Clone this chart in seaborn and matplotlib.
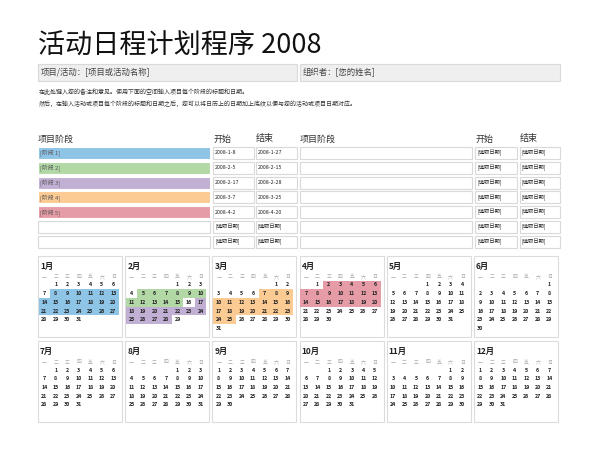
import calendar, datetime
import matplotlib
matplotlib.use("Agg")
import matplotlib.pyplot as plt
from matplotlib.patches import Rectangle
import seaborn as sns

sns.set_style("white")
plt.rcParams['font.family'] = ['Noto Sans CJK SC', 'DejaVu Sans']

title = "活动日程计划程序 2008"
year = 2008
phase_names = ["[阶段 1]", "[阶段 2]", "[阶段 3]", "[阶段 4]", "[阶段 5]", "", ""]
phase_starts = ["2008-1-8", "2008-2-5", "2008-2-17", "2008-3-7", "2008-4-2", "[选取日期]", "[选取日期]"]
phase_ends = ["2008-1-27", "2008-2-15", "2008-2-28", "2008-3-25", "2008-4-20", "[选取日期]", "[选取日期]"]
phase_colors = ["#8ec4e6", "#b2d8a6", "#c2afd4", "#fccb94", "#e59ca6"]
month_names = [f"{m}月" for m in range(1, 13)]
weekdays = ["一", "二", "三", "四", "五", "六", "日"]

fig = plt.figure(figsize=(6, 4.62), dpi=100)
ax = fig.add_axes([0, 0, 1, 1])
ax.set_xlim(0, 600); ax.set_ylim(462, 0); ax.axis("off")

def box(x0, y0, w, h, fc="white", ec="#d9d9d9", lw=0.8):
    ax.add_patch(Rectangle((x0, y0), w, h, facecolor=fc, edgecolor=ec, lw=lw))

ax.text(38, 45, title, fontsize=19.5, va="center", ha="left", color="#111")
box(38, 64, 259, 17, fc="#efefef")
box(300, 64, 260, 17, fc="#efefef")
ax.text(41, 72.5, "项目/活动：[项目或活动名称]", fontsize=6, va="center", color="#444")
ax.text(303, 72.5, "组织者：[您的姓名]", fontsize=6, va="center", color="#444")
ax.text(39, 92, "在此处键入您的备注和意见。使用下面的空间输入项目每个阶段的标题和日期。", fontsize=4.3, va="center", color="#333")
ax.text(39, 104, "然后，在输入活动或项目每个阶段的标题和日期之后，您可以将日历上的日期加上底纹以便与您的活动或项目日期对应。", fontsize=4.3, va="center", color="#333")

for x, t in [(38, "项目阶段"), (213, "开始"), (256, "结束"), (300, "项目阶段"), (475, "开始"), (520, "结束")]:
    ax.text(x, 139, t, fontsize=6.5, va="center", color="#333")

row_h = 12
for i in range(7):
    y0 = 147 + i * 14.8
    fc = phase_colors[i] if i < len(phase_colors) else "white"
    box(38, y0, 172, row_h, fc=fc, ec="#d9d9d9" if i >= 5 else "white")
    ax.text(40, y0 + row_h / 2, phase_names[i], fontsize=4.2, va="center", color="#555")
    box(213, y0, 41, row_h); ax.text(215, y0 + row_h / 2, phase_starts[i], fontsize=3.8, va="center", color="#222")
    box(256, y0, 41, row_h); ax.text(258, y0 + row_h / 2, phase_ends[i], fontsize=3.8, va="center", color="#222")
    box(300, y0, 172, row_h)
    box(475, y0, 42, row_h); ax.text(477, y0 + row_h / 2, "[选取日期]", fontsize=3.8, va="center", color="#222")
    box(520, y0, 40, row_h); ax.text(522, y0 + row_h / 2, "[选取日期]", fontsize=3.8, va="center", color="#222")

def parse(s):
    y, m, d = map(int, s.split("-")); return datetime.date(y, m, d)
spans = [(parse(s), parse(e), c) for s, e, c in zip(phase_starts, phase_ends, phase_colors)]

cw, ch = 11.5, 8.7
for mi in range(12):
    m = mi + 1
    bx = 38 + (mi % 6) * 87.2
    by = 256 + (mi // 6) * 85
    box(bx, by, 84, 81, ec="#dcdcdc")
    ax.text(bx + 2, by + 10, month_names[mi], fontsize=6, fontweight="bold", va="center", color="#222")
    for k, w in enumerate(weekdays):
        ax.text(bx + 6.3 + k * cw, by + 21, w, fontsize=3.5, ha="center", va="center", color="#aaa")
    weeks = calendar.Calendar(0).monthdayscalendar(year, m)
    for r, wk in enumerate(weeks):
        cy = by + 29 + r * ch
        for k, d in enumerate(wk):
            if d == 0: continue
            cx = bx + 6.3 + k * cw
            dt = datetime.date(year, m, d)
            for s, e, c in spans:
                if s <= dt <= e:
                    ax.add_patch(Rectangle((cx - cw / 2, cy - ch / 2), cw, ch, facecolor=c, edgecolor="none"))
            ax.text(cx, cy, str(d), fontsize=3.8, fontweight="bold", ha="center", va="center", color="#222")

fig.savefig("out.png", dpi=100)
